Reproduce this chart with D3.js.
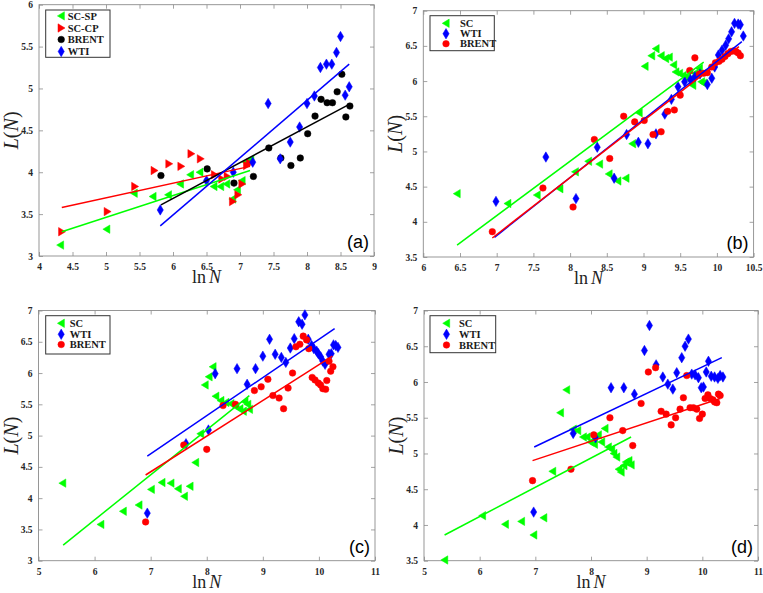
<!DOCTYPE html>
<html>
<head>
<meta charset="utf-8">
<script src="https://cdn.jsdelivr.net/npm/d3@7"></script>
<style>
  body { margin: 0; background: #fff; }
  svg { display: block; }
</style>
</head>
<body>
<div id="main-container"></div>
<script>
// DATA: panel (a)
const aScSp = [[4.32,3.13],[5.01,3.32],[5.42,3.75],[5.70,3.71],[5.93,3.73],[6.11,3.86],[6.26,3.97],[6.40,4.00],[6.61,3.83],[6.71,3.83],[6.80,3.86],[6.89,3.68],[6.96,3.79],[7.03,3.90],[7.09,4.12],[7.16,4.15]];
const aScCp = [[4.34,3.29],[5.02,3.53],[5.43,3.83],[5.72,4.02],[5.94,4.10],[6.12,4.07],[6.27,4.22],[6.41,4.16],[6.62,3.97],[6.73,3.92],[6.81,3.95],[6.89,3.65],[6.97,3.73],[7.03,3.86],[7.10,4.08],[7.14,4.11]];
const aBrent = [[5.82,3.96],[6.51,4.04],[6.91,3.87],[7.20,3.95],[7.43,4.29],[7.61,4.17],[7.76,4.08],[7.90,4.17],[8.01,4.46],[8.12,4.67],[8.21,4.87],[8.30,4.83],[8.38,4.83],[8.45,4.96],[8.52,5.17],[8.58,4.66],[8.64,4.79]];
const aWti = [[5.81,3.55],[6.50,3.90],[6.90,4.00],[7.19,4.12],[7.42,4.82],[7.60,4.16],[7.75,4.36],[7.89,4.54],[8.00,4.82],[8.11,4.91],[8.20,5.25],[8.29,5.29],[8.37,5.29],[8.44,5.43],[8.50,5.62],[8.57,4.92],[8.63,5.02]];
const aFitScSp = [[4.34,3.29],[7.15,4.02]];
const aFitScCp = [[4.34,3.58],[7.15,4.07]];
const aFitBrent = [[5.82,3.61],[8.63,4.81]];
const aFitWti = [[5.81,3.36],[8.63,5.29]];

// DATA: panel (b)
const bSc = [[6.46,4.40],[7.15,4.26],[7.55,4.38],[7.86,4.47],[8.07,4.71],[8.25,4.86],[8.40,4.82],[8.53,4.68],[8.65,4.58],[8.76,4.62],[8.85,5.11],[8.94,5.55],[9.02,6.21],[9.11,6.36],[9.17,6.46],[9.24,6.36],[9.30,6.32],[9.35,6.34],[9.41,6.23],[9.44,6.13],[9.49,6.11],[9.54,6.08],[9.60,6.06],[9.63,6.02],[9.67,5.94],[9.70,6.11],[9.76,6.18],[9.79,5.99],[9.82,5.97]];
const bWti = [[6.99,4.29],[7.67,4.92],[8.08,4.33],[8.37,5.06],[8.60,4.62],[8.77,5.24],[8.93,5.13],[9.06,5.11],[9.17,5.25],[9.29,5.53],[9.38,5.74],[9.47,5.92],[9.56,5.99],[9.64,6.02],[9.70,6.06],[9.77,6.10],[9.87,5.95],[9.93,6.04],[9.97,6.20],[10.02,6.37],[10.07,6.44],[10.12,6.51],[10.16,6.60],[10.20,6.70],[10.24,6.82],[10.29,6.81],[10.32,6.80],[10.36,6.64]];
const bBrent = [[6.94,3.86],[7.63,4.48],[8.04,4.21],[8.33,5.17],[8.54,4.90],[8.73,5.50],[8.88,5.42],[9.01,5.44],[9.13,5.24],[9.24,5.28],[9.33,5.57],[9.42,5.59],[9.50,5.80],[9.63,6.15],[9.70,6.33],[9.76,6.10],[9.82,6.11],[9.87,6.12],[9.93,6.20],[9.98,6.26],[10.03,6.28],[10.07,6.31],[10.11,6.35],[10.15,6.39],[10.19,6.42],[10.23,6.43],[10.26,6.42],[10.29,6.40],[10.32,6.36]];
const bFitSc = [[6.46,3.67],[9.82,6.27]];
const bFitWti = [[6.97,3.78],[10.34,6.56]];
const bFitBrent = [[6.94,3.77],[10.30,6.49]];

// DATA: panel (c)
const cSc = [[5.43,4.24],[6.11,3.58],[6.51,3.79],[6.79,3.89],[7.01,4.14],[7.20,4.25],[7.36,4.24],[7.49,4.15],[7.60,4.03],[7.70,4.19],[7.80,4.57],[7.89,5.03],[7.97,5.81],[8.04,5.94],[8.11,6.10],[8.16,5.63],[8.25,5.56],[8.34,5.53],[8.43,5.51],[8.52,5.46],[8.59,5.43],[8.65,5.39],[8.68,5.54],[8.73,5.50],[8.76,5.42]];
const cWti = [[6.94,3.76],[7.63,4.87],[8.03,5.09],[8.15,5.99],[8.54,6.07],[8.72,5.82],[8.87,6.07],[9.00,6.27],[9.12,6.54],[9.22,6.30],[9.33,6.25],[9.41,6.17],[9.49,6.40],[9.56,6.55],[9.64,6.82],[9.70,6.78],[9.75,6.93],[9.81,6.54],[9.87,6.44],[9.91,6.39],[9.96,6.35],[9.99,6.31],[10.03,6.26],[10.07,6.19],[10.11,6.14],[10.18,6.30],[10.22,6.31],[10.26,6.45],[10.30,6.44],[10.34,6.41]];
const cBrent = [[6.91,3.62],[7.59,4.85],[8.00,4.78],[8.29,5.48],[8.51,5.50],[8.85,5.72],[8.97,5.78],[9.09,5.90],[9.18,5.64],[9.29,5.60],[9.37,5.43],[9.45,5.76],[9.53,6.00],[9.59,6.42],[9.66,6.46],[9.72,6.59],[9.78,6.53],[9.82,6.39],[9.88,5.93],[9.93,5.89],[9.99,5.84],[10.03,5.81],[10.07,5.75],[10.12,5.74],[10.14,5.88],[10.18,6.19],[10.21,6.03],[10.25,6.10]];
const cFitSc = [[5.44,3.25],[8.76,5.64]];
const cFitWti = [[6.94,4.67],[10.28,6.71]];
const cFitBrent = [[6.91,4.37],[10.24,6.27]];

// DATA: panel (d)
const dSc = [[5.37,3.51],[6.05,4.13],[6.46,4.01],[6.75,4.05],[6.97,3.86],[7.15,4.10],[7.31,4.75],[7.45,5.57],[7.56,5.89],[7.68,5.34],[7.76,5.32],[7.86,5.23],[7.93,5.23],[7.99,5.16],[8.06,5.13],[8.13,5.26],[8.19,5.16],[8.25,5.35],[8.31,5.09],[8.37,5.06],[8.41,5.00],[8.46,4.95],[8.50,4.78],[8.54,4.74],[8.59,4.83],[8.63,4.88],[8.68,4.90],[8.72,4.84]];
const dWti = [[6.97,4.18],[7.68,5.28],[8.08,5.22],[8.36,5.92],[8.59,5.92],[8.78,5.83],[8.96,6.44],[9.05,6.79],[9.17,6.24],[9.29,6.07],[9.38,5.97],[9.47,5.90],[9.54,6.13],[9.63,6.34],[9.69,6.50],[9.75,6.60],[9.81,6.11],[9.87,6.10],[9.93,6.06],[9.98,5.92],[10.02,5.93],[10.07,6.14],[10.11,6.29],[10.16,6.08],[10.22,6.07],[10.28,6.05],[10.32,6.09],[10.37,6.07]];
const dBrent = [[6.95,4.62],[7.64,4.78],[8.05,5.26],[8.34,5.50],[8.57,5.32],[8.75,5.11],[8.90,5.70],[9.03,6.14],[9.16,6.20],[9.26,5.59],[9.35,5.55],[9.44,5.40],[9.52,5.50],[9.60,5.62],[9.66,5.78],[9.72,6.09],[9.78,5.64],[9.84,5.64],[9.90,5.62],[9.95,5.49],[10.00,5.55],[10.05,5.77],[10.10,5.82],[10.14,5.77],[10.19,5.75],[10.22,5.72],[10.26,5.71],[10.29,5.83],[10.32,5.81]];
const dFitSc = [[5.37,3.86],[8.72,5.23]];
const dFitWti = [[6.98,5.09],[10.35,6.34]];
const dFitBrent = [[6.95,4.90],[10.32,5.77]];

// COLOUR CONSTANTS
const GREEN = "#00ff00", RED = "#ff0000", BLUE = "#0000ff", BLACK = "#000000";
const AXIS_GREY = "#8c8c8c";
const SERIF = "'Liberation Serif', 'Times New Roman', serif";

// HELPER FUNCTIONS
function markerPath(sym) {
    if (sym === "tl") return "M-3.8,0L3.2,-4.2L3.2,4.2Z";
    if (sym === "tr") return "M3.8,0L-3.2,-4.2L-3.2,4.2Z";
    if (sym === "dm") return "M0,-5.2L3.1,0L0,5.2L-3.1,0Z";
    return d3.symbol(d3.symbolCircle, 34)();
}

function series(name, color, sym, data, fit) {
    return {name: name, color: color, sym: sym, data: data, fit: fit};
}

const panels = [
    {label: "(a)", left: 39, right: 374, top: 4.7, bottom: 256,
     xdom: [4, 9], ydom: [3, 6], xstep: 0.5, ystep: 0.5,
     legend: {x: 6.7, y: 5.3, w: 64.3, h: 47.3, mx: 15.5, tx: 22, rows: [5.9, 18, 29.5, 41.5]},
     series: [series("SC-SP", GREEN, "tl", aScSp, aFitScSp),
              series("SC-CP", RED, "tr", aScCp, aFitScCp),
              series("BRENT", BLACK, "o", aBrent, aFitBrent),
              series("WTI", BLUE, "dm", aWti, aFitWti)]},
    {label: "(b)", left: 423.3, right: 753.6, top: 10.7, bottom: 257,
     xdom: [6, 10.5], ydom: [3.5, 7], xstep: 0.5, ystep: 0.5,
     legend: {x: 6.7, y: 5, w: 64.3, h: 35, mx: 16, tx: 30, rows: [7.6, 18, 28]},
     series: [series("SC", GREEN, "tl", bSc, bFitSc),
              series("WTI", BLUE, "dm", bWti, bFitWti),
              series("BRENT", RED, "o", bBrent, bFitBrent)]},
    {label: "(c)", left: 38.5, right: 375, top: 310.5, bottom: 560.7,
     xdom: [5, 11], ydom: [3, 7], xstep: 1, ystep: 0.5,
     legend: {x: 7.2, y: 5.2, w: 64.3, h: 38.3, mx: 15.5, tx: 24, rows: [7.6, 18.6, 28.8]},
     series: [series("SC", GREEN, "tl", cSc, cFitSc),
              series("WTI", BLUE, "dm", cWti, cFitWti),
              series("BRENT", RED, "o", cBrent, cFitBrent)]},
    {label: "(d)", left: 424, right: 758, top: 310.5, bottom: 560.7,
     xdom: [5, 11], ydom: [3.5, 7], xstep: 1, ystep: 0.5,
     legend: {x: 6, y: 5.2, w: 65.7, h: 37, mx: 16.5, tx: 29, rows: [7.6, 18.6, 29.3]},
     series: [series("SC", GREEN, "tl", dSc, dFitSc),
              series("WTI", BLUE, "dm", dWti, dFitWti),
              series("BRENT", RED, "o", dBrent, dFitBrent)]}
];

// DRAWING SETUP
const svg = d3.select("#main-container").append("svg")
    .attr("width", 763)
    .attr("height", 593)
    .style("background", "#fff");

function drawPanel(p) {
    const w = p.right - p.left;
    const h = p.bottom - p.top;
    const x = d3.scaleLinear().domain(p.xdom).range([0, w]);
    const y = d3.scaleLinear().domain(p.ydom).range([h, 0]);
    const xt = d3.range(p.xdom[0], p.xdom[1] + 1e-9, p.xstep);
    const yt = d3.range(p.ydom[0], p.ydom[1] + 1e-9, p.ystep);
    const fmt = d3.format("~g");

    const g = svg.append("g").attr("transform", `translate(${p.left},${p.top})`);

    // axes, MATLAB style: box with inward ticks
    const axes = [
        {ax: d3.axisBottom(x).tickValues(xt).tickFormat(fmt), t: `translate(0,${h})`, pad: 7.5},
        {ax: d3.axisLeft(y).tickValues(yt).tickFormat(fmt), t: null, pad: 6},
        {ax: d3.axisTop(x).tickValues(xt).tickFormat(""), t: null, pad: 0},
        {ax: d3.axisRight(y).tickValues(yt).tickFormat(""), t: `translate(${w},0)`, pad: 0}
    ];
    for (let a of axes) {
        const ag = g.append("g")
            .attr("transform", a.t)
            .call(a.ax.tickSize(-4).tickPadding(a.pad));
        ag.select(".domain").remove();
        ag.attr("font-family", SERIF).attr("font-size", 9.5);
        ag.selectAll(".tick line").attr("stroke", AXIS_GREY).attr("stroke-width", 0.8);
        ag.selectAll(".tick text")
            .attr("font-weight", "bold")
            .attr("fill", "#262626");
    }
    g.append("rect")
        .attr("width", w).attr("height", h)
        .attr("fill", "none")
        .attr("stroke", AXIS_GREY)
        .attr("stroke-width", 0.9);

    // scatter points
    for (let s of p.series) {
        g.append("g").selectAll("path")
            .data(s.data)
            .enter().append("path")
            .attr("d", markerPath(s.sym))
            .attr("transform", d => `translate(${x(d[0])},${y(d[1])})`)
            .attr("fill", s.color)
            .attr("stroke", s.color)
            .attr("stroke-width", 0.5);
    }

    // fitted lines
    const line = d3.line().x(d => x(d[0])).y(d => y(d[1]));
    for (let s of p.series) {
        g.append("path")
            .datum(s.fit)
            .attr("d", line)
            .attr("fill", "none")
            .attr("stroke", s.color)
            .attr("stroke-width", 1.5);
    }

    // legend
    const L = p.legend;
    const lg = g.append("g").attr("transform", `translate(${L.x},${L.y})`);
    lg.append("rect")
        .attr("width", L.w).attr("height", L.h)
        .attr("fill", "#fff")
        .attr("stroke", "#333")
        .attr("stroke-width", 1);
    p.series.forEach((s, i) => {
        lg.append("path")
            .attr("d", markerPath(s.sym))
            .attr("transform", `translate(${L.mx},${L.rows[i]})`)
            .attr("fill", s.color)
            .attr("stroke", s.color)
            .attr("stroke-width", 0.5);
        lg.append("text")
            .attr("x", L.tx).attr("y", L.rows[i])
            .attr("dy", "0.35em")
            .attr("font-family", SERIF)
            .attr("font-weight", "bold")
            .attr("font-size", 10.5)
            .attr("fill", "#1a1a1a")
            .text(s.name);
    });

    // panel letter
    g.append("text")
        .attr("x", w - 5).attr("y", h - 8)
        .attr("text-anchor", "end")
        .attr("font-family", "'Liberation Sans', Arial, sans-serif")
        .attr("font-size", 18)
        .attr("fill", "#000")
        .text(p.label);

    // axis titles
    const xl = g.append("text")
        .attr("x", w / 2).attr("y", h + 27)
        .attr("text-anchor", "middle")
        .attr("font-family", SERIF)
        .attr("font-size", 18)
        .attr("fill", "#222");
    xl.append("tspan").text("ln");
    xl.append("tspan").attr("font-style", "italic").attr("dx", 3).text("N");

    const yl = g.append("text")
        .attr("transform", `translate(-21,${h / 2}) rotate(-90)`)
        .attr("text-anchor", "middle")
        .attr("font-family", SERIF)
        .attr("font-size", 20)
        .attr("fill", "#222");
    yl.append("tspan").attr("font-style", "italic").text("L");
    yl.append("tspan").text("(");
    yl.append("tspan").attr("font-style", "italic").text("N");
    yl.append("tspan").text(")");
}

// ENTRY
for (let p of panels) {
    drawPanel(p);
}
</script>
</body>
</html>
